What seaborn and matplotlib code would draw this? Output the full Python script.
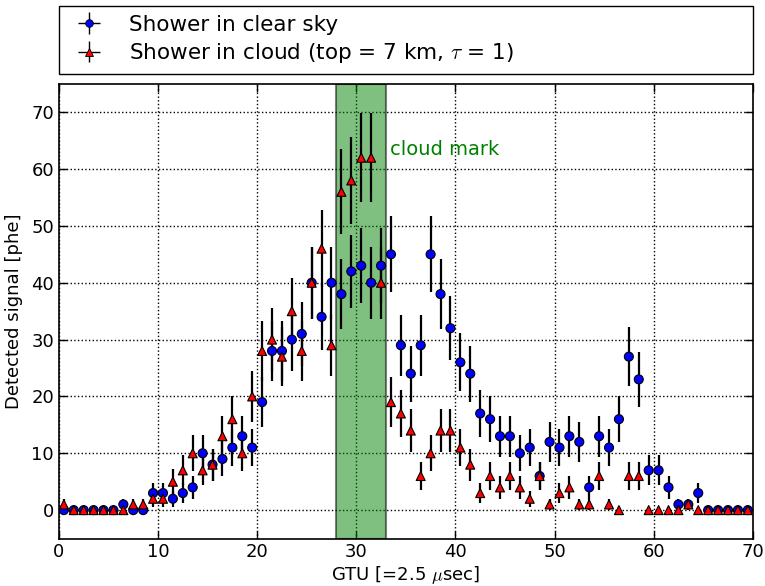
import matplotlib
matplotlib.use("Agg")
import matplotlib.pyplot as plt
import numpy as np
import pandas as pd
import seaborn as sns
from matplotlib.legend_handler import HandlerErrorbar

# GTU bins (centre of each 1-GTU bin)
gtu = np.arange(70) + 0.5

clear_sky = [0, 0, 0, 0, 0, 0, 1, 0, 0, 3, 3, 2, 3, 4, 10, 8, 9, 11, 13, 11,
             19, 28, 28, 30, 31, 40, 34, 40, 38, 42, 43, 40, 43, 45, 29, 24, 29, 45, 38, 32,
             26, 24, 17, 16, 13, 13, 10, 11, 6, 12, 11, 13, 12, 4, 13, 11, 16, 27, 23, 7,
             7, 4, 1, 1, 3, 0, 0, 0, 0, 0]
in_cloud = [1, 0, 0, 0, 0, 0, 0, 1, 1, 2, 2, 5, 7, 10, 7, 8, 13, 16, 10, 20,
            28, 30, 27, 35, 28, 40, 46, 29, 56, 58, 62, 62, 40, 19, 17, 14, 6, 10, 14, 14,
            11, 8, 3, 6, 4, 6, 4, 2, 6, 1, 3, 4, 1, 1, 6, 1, 0, 6, 6, 0,
            0, 0, 0, 1, 0, 0, 0, 0, 0, 0]

labels = {"clear": "Shower in clear sky",
          "cloud": r"Shower in cloud (top = 7 km, $\tau$ = 1)"}
cloud_band = (28, 33)

df = pd.DataFrame({
    "gtu": np.concatenate([gtu, gtu]),
    "signal": clear_sky + in_cloud,
    "series": ["clear"] * len(gtu) + ["cloud"] * len(gtu),
})
df["err"] = np.sqrt(df["signal"])  # poisson errors

sns.set_style("ticks")
plt.rcParams["font.family"] = ["DejaVu Sans"]
plt.rcParams["mathtext.fontset"] = "cm"
plt.rcParams["xtick.direction"] = "in"
plt.rcParams["ytick.direction"] = "in"
for k in ["text.color", "axes.labelcolor", "xtick.color", "ytick.color", "xtick.labelcolor", "ytick.labelcolor"]:
    plt.rcParams[k] = "black"

fig = plt.figure(figsize=(7.65, 5.86), dpi=100)
ax = fig.add_axes([0.077, 0.081, 0.907, 0.776])

ax.axvspan(*cloud_band, facecolor="green", edgecolor="black", alpha=0.5, lw=1.5, zorder=1)
ax.text(33.4, 62.5, "cloud mark", color="green", fontsize=14, zorder=5)

for key in ["clear", "cloud"]:
    sub = df[df["series"] == key]
    ax.errorbar(sub["gtu"], sub["signal"], yerr=sub["err"], fmt="none",
                ecolor="black", elinewidth=1.6, capsize=0, zorder=2)

sns.scatterplot(data=df, x="gtu", y="signal", hue="series", style="series",
                palette={"clear": "blue", "cloud": "red"},
                markers={"clear": "o", "cloud": "^"},
                s=42, edgecolor="black", linewidth=0.8, legend=False,
                zorder=3, ax=ax)

# proxy handles so the legend shows marker + error cross
handles = []
for key, col, mk in [("clear", "blue", "o"), ("cloud", "red", "^")]:
    h = ax.errorbar([], [], yerr=[], xerr=[], fmt=mk, color="black", mfc=col,
                    mec="black", ms=5.5, mew=0.6, elinewidth=1.0, label=labels[key])
    handles.append(h)
ax.legend(handles=handles, labels=[labels["clear"], labels["cloud"]],
          handler_map={type(handles[0]): HandlerErrorbar(xerr_size=0.5, yerr_size=0.5)},
          bbox_to_anchor=(0.0, 1.022, 1.0, 0.102), loc="lower left", mode="expand",
          borderaxespad=0.0, fontsize=15.5, fancybox=False, edgecolor="black",
          framealpha=1, handlelength=2.0, handletextpad=0.86, labelspacing=0.3)

ax.set_xlim(0, 70)
ax.set_ylim(-5, 75)
ax.set_xticks(range(0, 71, 10))
ax.set_yticks(range(0, 71, 10))
ax.tick_params(axis="both", which="both", top=True, right=True, labelsize=13,
               length=6, width=1, color="black")
ax.grid(True, linestyle=":", color="black", lw=1)
for sp in ax.spines.values():
    sp.set_visible(True)
    sp.set_color("black")
    sp.set_linewidth(1.2)

ax.set_xlabel(r"GTU [=2.5 $\mu$sec]", fontsize=13, labelpad=2)
ax.set_ylabel("Detected signal [phe]", fontsize=13, labelpad=6)

fig.savefig("out.png", dpi=100)
